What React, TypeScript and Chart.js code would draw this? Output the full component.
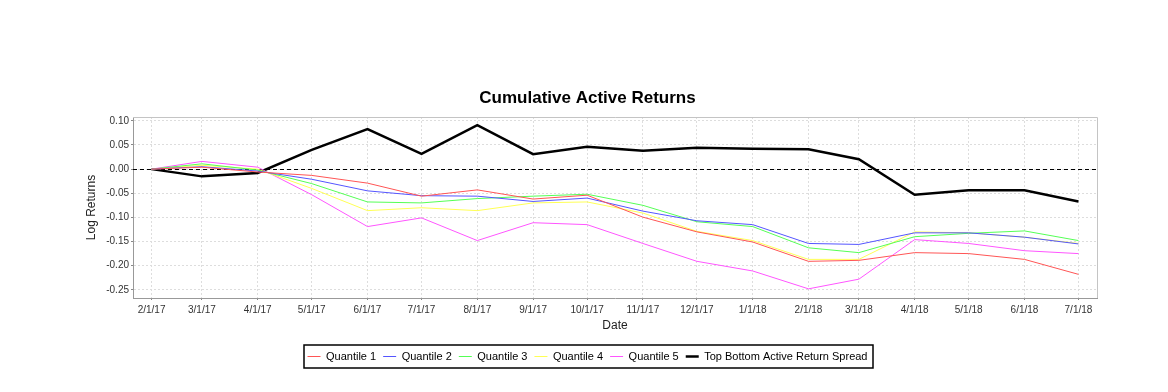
import React, { useEffect, useRef } from "react";
import { Chart, registerables } from "chart.js";

Chart.register(...registerables);

const FONT = "'Liberation Sans', Arial, Helvetica, sans-serif";

const TITLE = "Cumulative Active Returns";
const X_TITLE = "Date";
const Y_TITLE = "Log Returns";

const dates = [
  "2017-02-01", "2017-03-01", "2017-04-01", "2017-05-01", "2017-06-01", "2017-07-01",
  "2017-08-01", "2017-09-01", "2017-10-01", "2017-11-01", "2017-12-01", "2018-01-01",
  "2018-02-01", "2018-03-01", "2018-04-01", "2018-05-01", "2018-06-01", "2018-07-01",
];
const xTickLabels = [
  "2/1/17", "3/1/17", "4/1/17", "5/1/17", "6/1/17", "7/1/17", "8/1/17", "9/1/17", "10/1/17",
  "11/1/17", "12/1/17", "1/1/18", "2/1/18", "3/1/18", "4/1/18", "5/1/18", "6/1/18", "7/1/18",
];
const yTicks = [-0.25, -0.2, -0.15, -0.1, -0.05, 0, 0.05, 0.1];

const seriesNames = ["Quantile 1", "Quantile 2", "Quantile 3", "Quantile 4", "Quantile 5", "Top Bottom Active Return Spread"];
const quantile1 = [0, 0.004, -0.006, -0.013, -0.029, -0.056, -0.043, -0.062, -0.054, -0.0995, -0.13, -0.151, -0.191, -0.189, -0.173, -0.175, -0.187, -0.218];
const quantile2 = [0, 0.005, -0.004, -0.021, -0.045, -0.055, -0.056, -0.067, -0.06, -0.087, -0.107, -0.115, -0.154, -0.156, -0.132, -0.132, -0.141, -0.155];
const quantile3 = [0, 0.011, -0.002, -0.03, -0.068, -0.07, -0.061, -0.056, -0.052, -0.075, -0.109, -0.119, -0.163, -0.173, -0.14, -0.133, -0.128, -0.148];
const quantile4 = [0, 0.008, 0.0, -0.04, -0.086, -0.08, -0.086, -0.07, -0.068, -0.091, -0.129, -0.148, -0.187, -0.187, -0.13, -0.132, -0.141, -0.154];
const quantile5 = [0, 0.016, 0.004, -0.053, -0.119, -0.101, -0.148, -0.111, -0.115, -0.154, -0.191, -0.211, -0.248, -0.228, -0.146, -0.154, -0.169, -0.175];
const spread = [0, -0.015, -0.008, 0.04, 0.083, 0.0315, 0.091, 0.031, 0.0465, 0.038, 0.0445, 0.042, 0.041, 0.0205, -0.053, -0.044, -0.044, -0.067];

const seriesValues = [quantile1, quantile2, quantile3, quantile4, quantile5, spread];
const seriesColors = ["#ff5555", "#5555ff", "#55ff55", "#ffff55", "#ff55ff", "#000000"];
const seriesWidths = [1, 1, 1, 1, 1, 2.5];

function dayOffset(d: string): number {
  const [y, m, dd] = d.split("-").map(Number);
  return (Date.UTC(y, m - 1, dd) - Date.UTC(2017, 1, 1)) / 86400000;
}

const xValues = dates.map(dayOffset);

const zeroLinePlugin = {
  id: "zeroLine",
  beforeDatasetsDraw(chart: any) {
    const { ctx, chartArea, scales } = chart;
    const y = Math.round(scales.y.getPixelForValue(0)) + 0.5;
    ctx.save();
    ctx.strokeStyle = "#c4c4c4";
    ctx.lineWidth = 1;
    ctx.beginPath();
    ctx.moveTo(chartArea.left, Math.round(chartArea.top) + 0.5);
    ctx.lineTo(Math.round(chartArea.right) + 0.5, Math.round(chartArea.top) + 0.5);
    ctx.lineTo(Math.round(chartArea.right) + 0.5, chartArea.bottom);
    ctx.stroke();
    ctx.strokeStyle = "#000";
    ctx.setLineDash([4, 3]);
    ctx.beginPath();
    ctx.moveTo(chartArea.left, y);
    ctx.lineTo(chartArea.right, y);
    ctx.stroke();
    ctx.restore();
  },
};

const legendBorderPlugin = {
  id: "legendBorder",
  afterDraw(chart: any) {
    const lg = chart.legend;
    if (!lg || !lg.legendHitBoxes || !lg.legendHitBoxes.length) return;
    let l = Infinity, r = -Infinity, t = Infinity, b = -Infinity;
    lg.legendHitBoxes.forEach((h: any) => {
      l = Math.min(l, h.left);
      r = Math.max(r, h.left + h.width);
      t = Math.min(t, h.top);
      b = Math.max(b, h.top + h.height);
    });
    const cy = (t + b) / 2;
    const ctx = chart.ctx;
    ctx.save();
    ctx.strokeStyle = "#000";
    ctx.lineWidth = 1.5;
    ctx.strokeRect(Math.round(l - 4), Math.round(cy - 12), Math.round(r - l + 9), 23);
    ctx.restore();
  },
};

export default function App() {
  const canvasRef = useRef<HTMLCanvasElement | null>(null);

  useEffect(() => {
    const canvas = canvasRef.current;
    if (!canvas) return;
    const chart = new Chart(canvas, {
      type: "line",
      data: {
        datasets: seriesNames.map((name, i) => ({
          label: name,
          data: seriesValues[i].map((v, j) => ({ x: xValues[j], y: v })),
          borderColor: seriesColors[i],
          backgroundColor: seriesColors[i],
          borderWidth: seriesWidths[i],
          pointRadius: 0,
          pointHoverRadius: 0,
          tension: 0,
          fill: false,
        })),
      },
      options: {
        responsive: false,
        animation: false,
        devicePixelRatio: 1,
        events: [],
        layout: { padding: { left: 78, right: 71, top: 0, bottom: 20 } },
        plugins: {
          title: {
            display: true,
            text: TITLE,
            color: "#000",
            font: { family: FONT, size: 17, weight: "bold" },
            padding: { top: 87.8, bottom: 8.8 },
          },
          legend: {
            display: true,
            position: "bottom",
            labels: {
              usePointStyle: true,
              pointStyle: "line",
              pointStyleWidth: 13,
              boxHeight: 11,
              color: "#000",
              font: { family: FONT, size: 11 },
              padding: 7,
            },
          },
          tooltip: { enabled: false },
        },
        scales: {
          x: {
            type: "linear",
            min: -10.3,
            max: 525.3,
            afterFit: (s: any) => { s.height = 46; },
            afterBuildTicks: (s: any) => { s.ticks = xValues.map((v) => ({ value: v })); },
            ticks: {
              autoSkip: false,
              maxRotation: 0,
              minRotation: 0,
              padding: 4,
              color: "#333",
              font: { family: FONT, size: 10 },
              callback: (_v: any, i: number) => xTickLabels[i],
            },
            grid: {
              color: "#dddddd",
              lineWidth: 1,
              drawTicks: true,
              tickLength: 2,
              tickColor: "#888",
              tickBorderDash: [],
            },
            border: { display: true, color: "#999", width: 1, dash: [2, 2] },
            title: {
              display: true,
              text: X_TITLE,
              color: "#222",
              font: { family: FONT, size: 12 },
              padding: { top: 0, bottom: 10.8 },
            },
          },
          y: {
            type: "linear",
            min: -0.267,
            max: 0.108,
            afterFit: (s: any) => { s.width = 55; },
            afterBuildTicks: (s: any) => { s.ticks = yTicks.map((v) => ({ value: v })); },
            ticks: {
              padding: 2,
              color: "#333",
              font: { family: FONT, size: 10 },
              callback: (v: any) => Number(v).toFixed(2),
            },
            grid: {
              color: "#dddddd",
              lineWidth: 1,
              drawTicks: true,
              tickLength: 2,
              tickColor: "#888",
              tickBorderDash: [],
            },
            border: { display: true, color: "#999", width: 1, dash: [2, 2] },
            title: {
              display: true,
              text: Y_TITLE,
              color: "#222",
              font: { family: FONT, size: 12 },
              padding: { top: 6.8, bottom: 0 },
            },
          },
        },
      },
      plugins: [zeroLinePlugin, legendBorderPlugin],
    } as any);
    return () => chart.destroy();
  }, []);

  return (
    <div style={{ position: "absolute", left: 0, top: 0, width: 1168, height: 392, background: "#fff" }}>
      <canvas ref={canvasRef} width={1168} height={392} style={{ display: "block" }} />
    </div>
  );
}
